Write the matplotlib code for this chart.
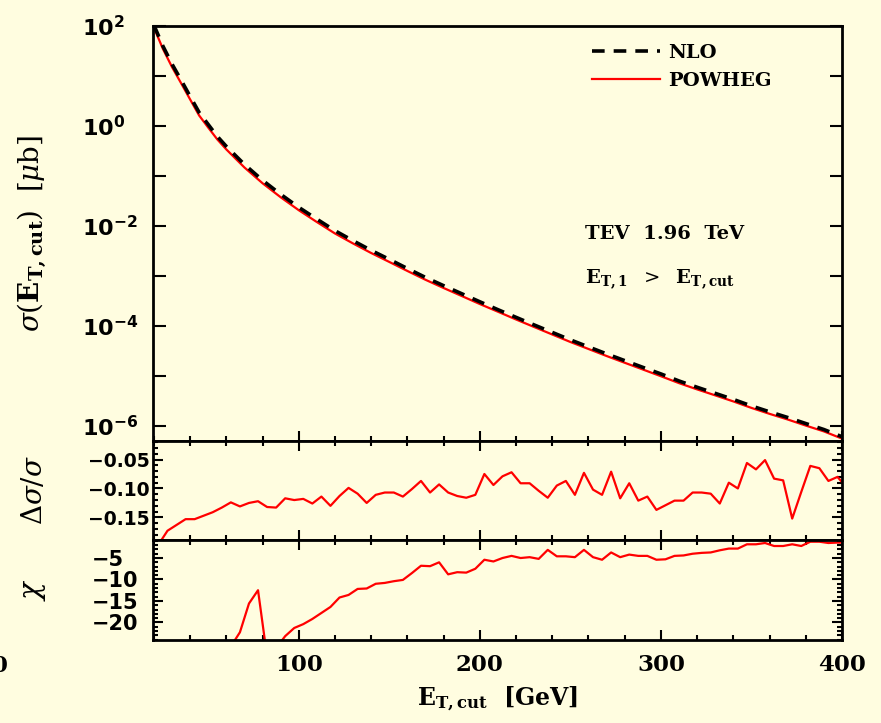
import numpy as np
import matplotlib
matplotlib.use('Agg')
import matplotlib.pyplot as plt
from matplotlib.ticker import MultipleLocator, FixedLocator, FuncFormatter

plt.rcParams['font.family'] = 'DejaVu Serif'
plt.rcParams['mathtext.fontset'] = 'dejavuserif'

# cross section sigma(E_T,cut) in micro-barn
et_sigma = [20, 25, 30, 35, 40, 45, 50, 55, 60, 70, 80, 90, 100, 110, 120, 130, 140,
            150, 160, 170, 180, 190, 200, 210, 220, 230, 240, 250, 260, 270, 280,
            290, 300, 310, 320, 330, 340, 350, 360, 370, 380, 390, 400]
sigma_powheg = [93, 34.7, 15.1, 7.2, 3.4, 1.62, 0.93, 0.54, 0.34, 0.148, 0.0716, 0.0376,
                0.0207, 0.0120, 7.08e-3, 4.47e-3, 2.88e-3, 1.91e-3, 1.26e-3, 8.4e-4,
                5.75e-4, 3.98e-4, 2.75e-4, 1.93e-4, 1.35e-4, 9.55e-5, 6.76e-5, 4.79e-5,
                3.47e-5, 2.51e-5, 1.84e-5, 1.35e-5, 9.9e-6, 7.2e-6, 5.4e-6, 4.1e-6,
                3.1e-6, 2.3e-6, 1.75e-6, 1.35e-6, 1.02e-6, 7.8e-7, 5.6e-7]
sigma_nlo = [104, 39.5, 17.3, 8.3, 3.9, 1.86, 1.07, 0.62, 0.39, 0.17, 0.082, 0.043,
             0.0236, 0.0137, 8.05e-3, 5.07e-3, 3.25e-3, 2.15e-3, 1.41e-3, 9.35e-4,
             6.4e-4, 4.42e-4, 3.05e-4, 2.12e-4, 1.49e-4, 1.05e-4, 7.45e-5, 5.28e-5,
             3.82e-5, 2.77e-5, 2.03e-5, 1.49e-5, 1.10e-5, 7.95e-6, 5.95e-6, 4.5e-6,
             3.4e-6, 2.52e-6, 1.92e-6, 1.48e-6, 1.12e-6, 8.5e-7, 6.1e-7]

# bin centres for ratio / chi panels
et_bins = np.arange(22.5, 405, 5.0)
delta = [-0.197, -0.173, -0.163, -0.153, -0.153, -0.147, -0.141, -0.133, -0.124, -0.131,
         -0.125, -0.122, -0.132, -0.133, -0.117, -0.120, -0.118, -0.126, -0.114, -0.130,
         -0.113, -0.099, -0.109, -0.125, -0.111, -0.107, -0.107, -0.114, -0.101, -0.087,
         -0.107, -0.093, -0.107, -0.113, -0.116, -0.111, -0.075, -0.094, -0.079, -0.072,
         -0.091, -0.091, -0.104, -0.116, -0.095, -0.087, -0.111, -0.073, -0.102, -0.111,
         -0.071, -0.117, -0.091, -0.121, -0.114, -0.137, -0.129, -0.121, -0.121, -0.107,
         -0.107, -0.109, -0.126, -0.090, -0.100, -0.056, -0.067, -0.051, -0.083, -0.086,
         -0.152, -0.106, -0.061, -0.065, -0.087, -0.080, -0.098]
chi = [-25.6, -22.3, -15.6, -12.5, -28.0, -26.0, -23.2, -21.3, -20.4, -19.2,
       -17.8, -16.4, -14.2, -13.6, -12.2, -12.1, -11.0, -10.8, -10.4, -10.1,
       -8.5, -6.8, -6.9, -6.0, -8.8, -8.3, -8.4, -7.5, -5.4, -5.8,
       -5.0, -4.5, -5.0, -4.8, -5.2, -3.1, -4.6, -4.6, -4.8, -3.1,
       -4.8, -5.4, -3.7, -4.8, -4.2, -4.5, -4.5, -5.4, -5.3, -4.5,
       -4.4, -4.0, -3.8, -3.7, -3.2, -2.8, -2.8, -1.8, -1.8, -1.5,
       -2.2, -2.2, -1.8, -2.2, -1.2, -1.2, -1.5, -1.4, -1.4]
et_chi = et_bins[8:]

bg = '#FFFDE0'
fig = plt.figure(figsize=(8.81, 7.23), dpi=100, facecolor=bg)
L, W = 153 / 881, 689 / 881
ax1 = fig.add_axes([L, 1 - 441 / 723, W, 415 / 723])
ax2 = fig.add_axes([L, 1 - 540 / 723, W, 99 / 723])
ax3 = fig.add_axes([L, 1 - 640 / 723, W, 100 / 723])

for ax in (ax1, ax2, ax3):
    ax.set_facecolor(bg)
    ax.set_xlim(19.5, 400)
    for s in ax.spines.values():
        s.set_linewidth(2.0)
    ax.xaxis.set_major_locator(MultipleLocator(100))
    ax.xaxis.set_minor_locator(MultipleLocator(20))
    ax.tick_params(which='both', direction='in', top=True, right=True, width=1.5)
    ax.tick_params(which='major', length=7)
    ax.tick_params(which='minor', length=3.5)

# top panel
ax1.plot(et_sigma, sigma_powheg, color='red', lw=1.6, label='POWHEG', zorder=2)
ax1.plot(et_sigma, sigma_nlo, color='black', lw=2.6, dashes=(3.5, 2.5), label='NLO', zorder=3)
ax1.set_yscale('log')
ax1.set_ylim(10 ** -6.3, 100)
ax1.yaxis.set_major_locator(FixedLocator([10.0 ** k for k in range(-6, 3)]))
ax1.yaxis.set_minor_locator(FixedLocator([]))
ax1.yaxis.set_major_formatter(FuncFormatter(
    lambda v, p: r'$\mathbf{10^{%d}}$' % round(np.log10(v)) if round(np.log10(v)) % 2 == 0 else ''))
ax1.tick_params(axis='x', which='both', top=False, labelbottom=False)
ax1.tick_params(axis='y', which='major', length=9, pad=51)
for t in ax1.get_yticklabels():
    t.set_math_fontfamily('dejavusans')
    t.set_fontsize(16)
    t.set_ha('left')
ax1.set_ylabel(r'$\sigma(\mathbf{E_{T,cut}})\ \ [\mu\mathrm{b}]$', fontsize=20)
ax1.yaxis.set_label_coords(-0.153, 0.5)

h, l = ax1.get_legend_handles_labels()
leg = ax1.legend(h[::-1], l[::-1], loc='upper left', bbox_to_anchor=(0.626, 0.975),
                 borderaxespad=0, frameon=False, handlelength=3.5, handletextpad=0.42,
                 labelspacing=0.5, prop={'family': 'DejaVu Serif', 'weight': 'bold', 'size': 14})

ax1.text(0.627, 0.50, 'TEV  1.96  TeV', transform=ax1.transAxes, fontsize=14,
         fontweight='bold', va='center', ha='left')
ax1.text(0.627, 0.39, r'$\mathbf{E_{T,1}}\ \ >\ \ \mathbf{E_{T,cut}}$', transform=ax1.transAxes,
         fontsize=14, va='center', ha='left')

# ratio panel
ax2.plot(et_bins, delta, color='red', lw=1.6)
ax2.set_ylim(-0.189, -0.018)
ax2.yaxis.set_major_locator(FixedLocator([-0.15, -0.10, -0.05]))
ax2.yaxis.set_minor_locator(MultipleLocator(0.01))
ax2.yaxis.set_major_formatter(FuncFormatter(lambda v, p: '\u2212%.2f' % abs(v)))
ax2.tick_params(axis='x', labelbottom=False)
ax2.tick_params(axis='y', which='major', pad=47)
ax2.set_ylabel(r'$\Delta\sigma/\sigma$', fontsize=20)
ax2.yaxis.set_label_coords(-0.153, 0.5)

# chi panel
ax3.plot(et_chi, chi, color='red', lw=1.6)
ax3.set_ylim(-24.1, -0.8)
ax3.yaxis.set_major_locator(FixedLocator([-20, -15, -10, -5]))
ax3.yaxis.set_minor_locator(MultipleLocator(1))
ax3.yaxis.set_major_formatter(FuncFormatter(lambda v, p: '\u2212%d' % abs(v)))
ax3.tick_params(axis='y', which='major', pad=44)
ax3.set_ylabel(r'$\chi$', fontsize=21)
ax3.yaxis.set_label_coords(-0.153, 0.5)
ax3.set_xlabel(r'$\mathbf{E_{T,cut}}$  [GeV]', fontsize=17, fontweight='bold', labelpad=6)

for ax, fs in ((ax2, 13.5), (ax3, 15)):
    for t in ax.get_yticklabels():
        t.set_fontfamily('DejaVu Sans')
        t.set_fontweight('bold')
        t.set_fontsize(fs)
        t.set_ha('left')
for t in ax3.get_xticklabels():
    t.set_fontweight('bold')
    t.set_fontsize(16.5)
ax3.tick_params(axis='x', pad=10)

fig.text(0.0, 1 - 666 / 723, '0', fontsize=16.5, fontweight='bold', ha='center', va='center')

fig.savefig('out.png', dpi=100, facecolor=bg)
